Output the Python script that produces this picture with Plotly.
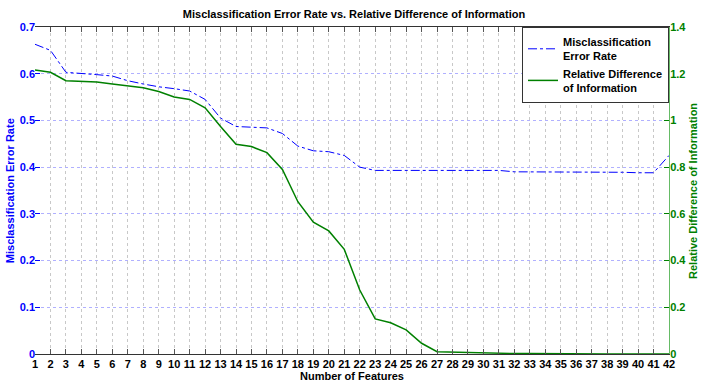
import plotly.graph_objects as go

features = list(range(1, 43))
error_rate = [0.663, 0.650, 0.603, 0.601, 0.598, 0.595, 0.585, 0.578, 0.572, 0.568,
              0.563, 0.545, 0.505, 0.487, 0.486, 0.484, 0.472, 0.445, 0.435, 0.433,
              0.425, 0.400, 0.393, 0.393, 0.393, 0.393, 0.393, 0.394, 0.394, 0.394,
              0.393, 0.390, 0.390, 0.390, 0.389, 0.389, 0.389, 0.389, 0.389, 0.388,
              0.388, 0.425]
rel_diff = [1.216, 1.206, 1.170, 1.166, 1.164, 1.156, 1.148, 1.140, 1.124, 1.100,
            1.090, 1.054, 0.974, 0.898, 0.888, 0.862, 0.790, 0.652, 0.564, 0.527,
            0.448, 0.274, 0.150, 0.134, 0.103, 0.046, 0.010, 0.008, 0.006, 0.006,
            0.004, 0.002, 0.002, 0.001, 0.001, 0.001, 0.0, 0.0, 0.0, 0.0,
            0.0, 0.0]

font = "Liberation Sans"
blue = "#0000ff"
green = "#008000"

fig = go.Figure()
fig.add_trace(go.Scatter(x=features, y=error_rate, mode="lines",
                         name="Misclassification<br>Error Rate",
                         line=dict(color=blue, width=1, dash="dashdot")))
fig.add_trace(go.Scatter(x=features, y=rel_diff, mode="lines", yaxis="y2",
                         name="Relative Difference<br>of Information",
                         line=dict(color=green, width=1.5)))

fig.update_layout(
    width=708, height=390,
    margin=dict(l=35, r=39, t=27, b=36),
    paper_bgcolor="white", plot_bgcolor="white",
    font=dict(family=font, size=11, color="black"),
    title=dict(text="<b>Misclassification Error Rate vs. Relative Difference of Information</b>",
               x=0.5, xanchor="center", y=0.964, yanchor="middle",
               font=dict(size=11, color="black")),
    xaxis=dict(range=[1, 42], tickvals=features, ticks="inside", ticklen=5,
               tickcolor="#555555", showline=True, linecolor="#333333", mirror="ticks",
               showgrid=True, gridcolor="#c8c8c8", griddash="dot", zeroline=False,
               automargin=False,
               tickfont=dict(size=11, color="black", weight="bold")),
    yaxis=dict(range=[0, 0.7], dtick=0.1, ticks="inside", ticklen=5, tickcolor=blue,
               showline=False, showgrid=True, gridcolor="#b0b0ff", griddash="dot",
               zeroline=False, automargin=False, ticklabelstandoff=-1,
               tickfont=dict(size=11, color=blue, weight="bold")),
    yaxis2=dict(range=[0, 1.4], dtick=0.2, overlaying="y", side="right",
                ticks="inside", ticklen=5, tickcolor=green,
                showline=True, linecolor="#66bb66", showgrid=False, zeroline=False,
                automargin=False, ticklabelstandoff=-2,
                tickfont=dict(size=11, color=green, weight="bold")),
    legend=dict(x=1, y=1, xanchor="right", yanchor="top",
                bgcolor="white", bordercolor="#333333", borderwidth=1,
                font=dict(size=11, color="black", weight="bold"), tracegroupgap=0),
    annotations=[
        dict(text="<b>Number of Features</b>", xref="paper", yref="paper",
             x=0.5, y=-0.067, xanchor="center", yanchor="middle", showarrow=False,
             font=dict(size=11, color="black")),
        dict(text="<b>Misclassification Error Rate</b>", xref="paper", yref="paper",
             x=-0.04, y=0.5, xanchor="center", yanchor="middle", textangle=-90,
             showarrow=False, font=dict(size=11, color=blue)),
        dict(text="<b>Relative Difference of Information</b>", xref="paper", yref="paper",
             x=1.037, y=0.5, xanchor="center", yanchor="middle", textangle=-90,
             showarrow=False, font=dict(size=11, color=green)),
    ],
)

# drop the browser's default 8px body margin so the figure fills the window
fig.write_html("out.html", config={"displayModeBar": False},
               post_script="document.body.style.margin='0';")
